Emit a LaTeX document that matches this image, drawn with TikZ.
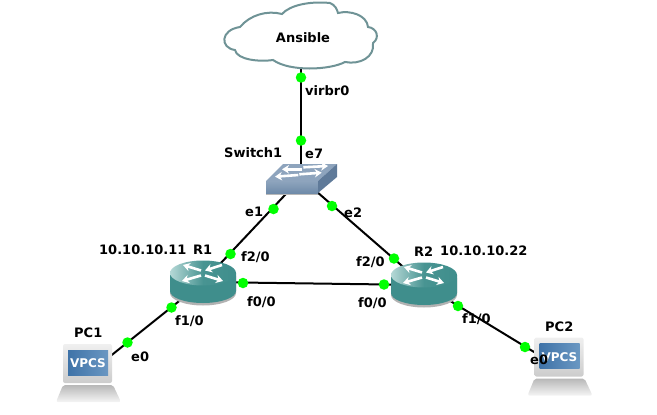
\documentclass[tikz,border=0pt]{standalone}
\usepackage{fontspec}
\setmainfont{DejaVu Sans}
\usetikzlibrary{arrows.meta,shadings}
\definecolor{cloudline}{HTML}{6F9396}
\definecolor{teal1}{HTML}{3F8E8C}
\definecolor{teal2}{HTML}{B5D8D6}
\definecolor{swtop}{HTML}{8EA4BD}
\definecolor{swfront}{HTML}{6F8BA9}
\definecolor{swside}{HTML}{5F7A99}
\definecolor{scrA}{HTML}{3F73A8}
\definecolor{scrB}{HTML}{6A97C2}
\tikzset{
  lbl/.style={font=\fontsize{13}{13}\selectfont\bfseries,inner sep=0pt,text=black},
  link/.style={draw=black,line width=2pt},
  dot/.style={circle,fill=green,draw=none,minimum size=10.5pt,inner sep=0pt},
  wa/.style={draw=white,line width=2.6pt,-{Stealth[length=7pt,width=8.5pt]}},
  pics/routericon/.style={code={
    \fill[black!30] (-33,3) -- (-33,20) arc[x radius=33,y radius=12.5,start angle=180,end angle=0] -- (33,3) -- cycle;
    \fill[teal1] (-33,0) -- (-33,18) arc[x radius=33,y radius=12,start angle=180,end angle=0] -- (33,0) -- cycle;
    \shade[left color=teal2,right color=teal1,middle color=teal1!92!teal2] (0,0) ellipse[x radius=33,y radius=12.5];
    \draw[wa] (-2,-2.5) -- (-20,-8);
    \draw[wa] (19,-8) -- (2,-2.5);
    \draw[wa] (-2,2.5) -- (-21,8);
    \draw[wa] (2,2.5) -- (20,8);
  }},
  pics/switchicon/.style={code={
    \fill[black!28] (-35,6) rectangle (17,17);
    \fill[swtop] (-35,3) -- (-18,-14) -- (36,-14) -- (17,3) -- cycle;
    \shade[top color=swtop,bottom color=swfront] (-35,3) rectangle (17,15);
    \fill[swside] (17,3) -- (36,-14) -- (36,-1) -- (17,15) -- cycle;
    \draw[wa] (0.7,-8.7) -- (-19,-8.7);
    \draw[wa] (2.3,-10.7) -- (27,-12);
    \draw[wa] (-2.7,-3) -- (-26,-1.3);
    \draw[wa] (-1.7,-3.7) -- (20.7,-5.3);
  }},
  pics/pcicon/.style={code={
    \shade[top color=black!6,bottom color=black!20,rounded corners=2pt] (-25,-30) rectangle (24,9);
    \shade[top color=black!28,bottom color=black!4,rounded corners=2pt] (-25,11) -- (25,11) -- (33,28) -- (-32,28) -- cycle;
    \shade[left color=scrA,right color=scrB] (-20,-24) rectangle (20,1);
    \node[font=\fontsize{12}{12}\selectfont\bfseries,text=white,inner sep=0pt] at (0,-10.5) {VPCS};
  }},
}
\begin{document}
\begin{tikzpicture}[x=1pt,y=-1pt]
\useasboundingbox (0,0) rectangle (657,415);
% device anchors
\coordinate (cloudc) at (301,38);
\coordinate (sw) at (301,178);
\coordinate (r1) at (203,282);
\coordinate (r2) at (424,285);
\coordinate (pc1) at (88,374);
\coordinate (pc2) at (559.5,367.5);
% connectors
\draw[link] (cloudc) -- (sw);
\draw[link] (sw) -- (r1);
\draw[link] (sw) -- (r2);
\draw[link] (r1) -- (r2);
\draw[link] (r1) -- (pc1);
\draw[link] (r2) -- (pc2);
% cloud
\draw[draw=cloudline,fill=white,line width=2pt]
  (240,27) .. controls (250,15) and (267,10) .. (282,14)
  .. controls (290,5) and (310,1) .. (330,3)
  .. controls (335,5) and (337,9) .. (338,13)
  .. controls (350,10) and (367,15) .. (368,27)
  .. controls (377,28) and (380,38) .. (373,43)
  .. controls (375,57) and (360,65) .. (345,62)
  .. controls (330,70) and (290,72) .. (273,60)
  .. controls (260,62) and (237,60) .. (235,50)
  .. controls (220,48) and (220,30) .. (240,27) -- cycle;
\node[lbl] (ansible) at (303,38) {Ansible};
% devices
\pic at (sw) {switchicon};
\pic at (203,273) {routericon};
\pic at (424,275) {routericon};
\pic at (pc1) {pcicon};
\pic at (pc2) {pcicon};
% port dots
\node[dot] (d1) at (301,77.5) {};
\node[dot] (d2) at (301,140.5) {};
\node[dot] (d3) at (273.5,209) {};
\node[dot] (d4) at (332,206) {};
\node[dot] (d5) at (230.5,254) {};
\node[dot] (d6) at (394,258.5) {};
\node[dot] (d7) at (243,283) {};
\node[dot] (d8) at (384,284.5) {};
\node[dot] (d9) at (171.5,307.5) {};
\node[dot] (d10) at (458,306) {};
\node[dot] (d11) at (127.5,342.5) {};
\node[dot] (d12) at (525,347) {};
% labels
\node[lbl,anchor=west] (l1) at (305,90.7) {virbr0};
\node[lbl,anchor=west] (l2) at (224,152.7) {Switch1};
\node[lbl,anchor=west] (l3) at (305,153.7) {e7};
\node[lbl,anchor=west] (l4) at (245,211.7) {e1};
\node[lbl,anchor=west] (l5) at (344,212.7) {e2};
\node[lbl,anchor=west] (l6) at (99,249.7) {10.10.10.11};
\node[lbl,anchor=west] (l7) at (193,249.7) {R1};
\node[lbl,anchor=west] (l8) at (241,256.7) {f2/0};
\node[lbl,anchor=west] (l9) at (414,251.7) {R2};
\node[lbl,anchor=west] (l10) at (440,250.7) {10.10.10.22};
\node[lbl,anchor=west] (l11) at (356,261.7) {f2/0};
\node[lbl,anchor=west] (l12) at (247,301.7) {f0/0};
\node[lbl,anchor=west] (l13) at (358,302.7) {f0/0};
\node[lbl,anchor=west] (l14) at (175,320.7) {f1/0};
\node[lbl,anchor=west] (l15) at (462,318.7) {f1/0};
\node[lbl,anchor=west] (l16) at (131,356.7) {e0};
\node[lbl,anchor=west] (l17) at (530,359.7) {e0};
\node[lbl,anchor=west] (l18) at (74,332.7) {PC1};
\node[lbl,anchor=west] (l19) at (545,326.7) {PC2};
\end{tikzpicture}
\end{document}
